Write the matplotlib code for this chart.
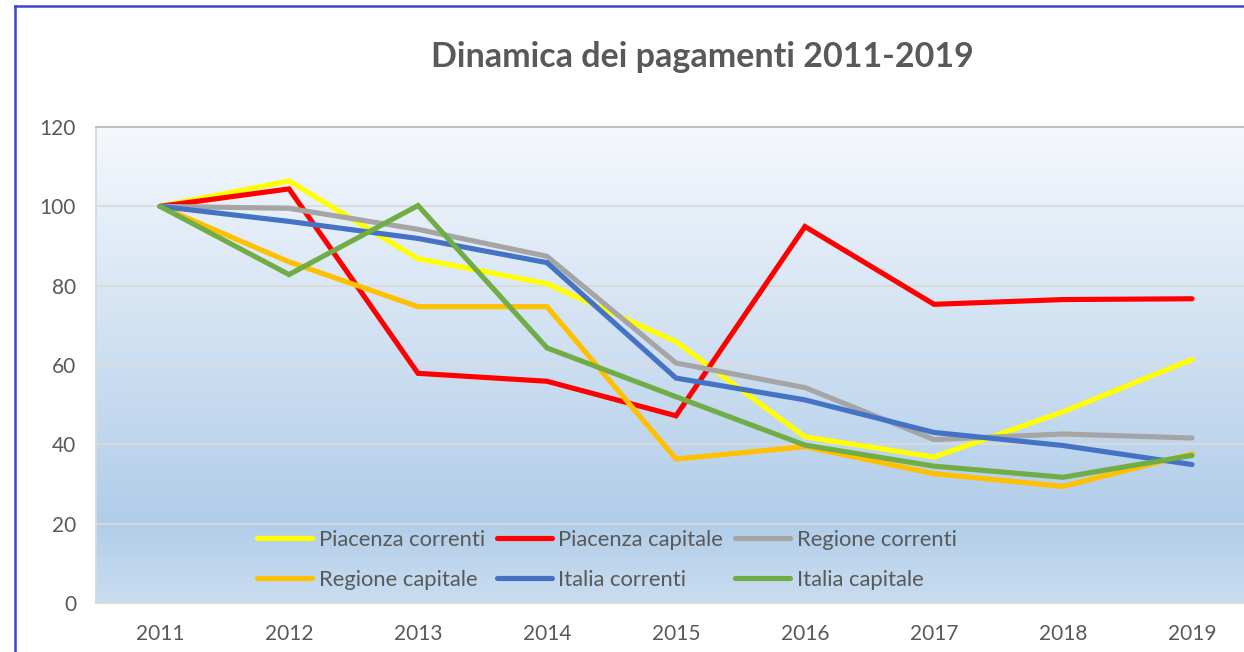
import numpy as np
import matplotlib
matplotlib.use("Agg")
import matplotlib.pyplot as plt
from matplotlib.lines import Line2D

years = ["2011", "2012", "2013", "2014", "2015", "2016", "2017", "2018", "2019"]
piacenza_correnti = [100, 106.4, 86.8, 80.5, 65.9, 41.9, 36.8, 48.2, 61.4]
piacenza_capitale = [100, 104.4, 57.9, 55.9, 47.2, 94.9, 75.3, 76.5, 76.7]
regione_correnti = [100, 99.5, 94.2, 87.4, 60.5, 54.3, 41.2, 42.6, 41.6]
regione_capitale = [100, 86.0, 74.7, 74.7, 36.3, 39.4, 32.6, 29.4, 37.6]
italia_correnti = [100, 96.2, 91.9, 85.8, 56.7, 51.2, 43.0, 39.7, 34.9]
italia_capitale = [100, 82.8, 100.2, 64.3, 52.0, 39.8, 34.5, 31.7, 37.2]

series = [
    ("Piacenza correnti", piacenza_correnti, "#FFFF00"),
    ("Piacenza capitale", piacenza_capitale, "#FF0000"),
    ("Regione correnti", regione_correnti, "#A5A5A5"),
    ("Regione capitale", regione_capitale, "#FFC000"),
    ("Italia correnti", italia_correnti, "#4472C4"),
    ("Italia capitale", italia_capitale, "#70AD47"),
]

plt.rcParams['font.family'] = ['Lato', 'DejaVu Sans']
TXT = "#595959"

W, H = 1244, 652
fig = plt.figure(figsize=(W / 100, H / 100), dpi=100)
fig.patch.set_facecolor("white")

left = 95.5 / W
bottom = 1 - 603 / H
top = 1 - 127 / H
ax = fig.add_axes([left, bottom, 1.0 - left, top - bottom])

# gradient background
stops = np.array([0.0, 0.83, 1.0])
cols = np.array([[245, 248, 252], [177, 205, 233], [202, 221, 240]]) / 255.0
t = np.linspace(0, 1, 400)
grad = np.stack([np.interp(t, stops, cols[:, i]) for i in range(3)], axis=-1)
grad = grad[:, None, :]
ax.imshow(grad, extent=[0, 1, 0, 1], transform=ax.transAxes, aspect="auto",
          zorder=-1, interpolation="bilinear")

x = np.arange(len(years))
handles = []
for name, vals, c in series:
    ln, = ax.plot(x, vals, color=c, lw=3.7, label=name, solid_capstyle="round",
                  solid_joinstyle="miter", zorder=3)
    handles.append(ln)

# x extends past figure edge like the reference crop
ax.set_xlim(-0.5, 8.5 - (1256.5 - W) / 129.0)
ax.set_ylim(0, 120)
ax.set_yticks(range(0, 121, 20))
ax.set_xticks(x)
ax.set_xticklabels(years)
ax.grid(axis="y", color="#d9d9d9", lw=1.3, zorder=0.5)
ax.set_axisbelow(True)
ax.tick_params(axis="both", length=0, labelsize=15, labelcolor=TXT)
ax.tick_params(axis="y", pad=14)
ax.tick_params(axis="x", pad=15)
for s in ["left", "bottom"]:
    ax.spines[s].set_color("#d9d9d9")
    ax.spines[s].set_linewidth(1.3)
ax.spines["top"].set_color("#bfbfbf")
ax.spines["top"].set_linewidth(1.5)
ax.spines["right"].set_visible(False)

# row-wise legend order (matplotlib fills column-wise)
order = [0, 3, 1, 4, 2, 5]
leg = ax.legend([handles[i] for i in order], [series[i][0] for i in order],
                ncol=3, loc="center", bbox_to_anchor=(607 / W, 1 - 560 / H),
                bbox_transform=fig.transFigure, frameon=False, fontsize=15.8,
                handlelength=2.5, handletextpad=0.3, columnspacing=0.55,
                labelspacing=0.9, labelcolor=TXT)
for h in leg.get_lines():
    h.set_linewidth(3.7)
    h.set_solid_capstyle("round")

fig.text(702 / W, 1 - 57 / H, "Dinamica dei pagamenti 2011-2019", ha="center",
         va="center", fontsize=24.5, fontweight="bold", color=TXT)

# outer blue border (cropped on right and bottom)
border = "#3F48CC"
fig.add_artist(Line2D([14.5 / W, 14.5 / W], [0, 1 - 6 / H], color=border, lw=1.8,
                      transform=fig.transFigure))
fig.add_artist(Line2D([14.5 / W, 1], [1 - 6 / H, 1 - 6 / H], color=border, lw=1.8,
                      transform=fig.transFigure))

fig.savefig("out.png", dpi=100)
